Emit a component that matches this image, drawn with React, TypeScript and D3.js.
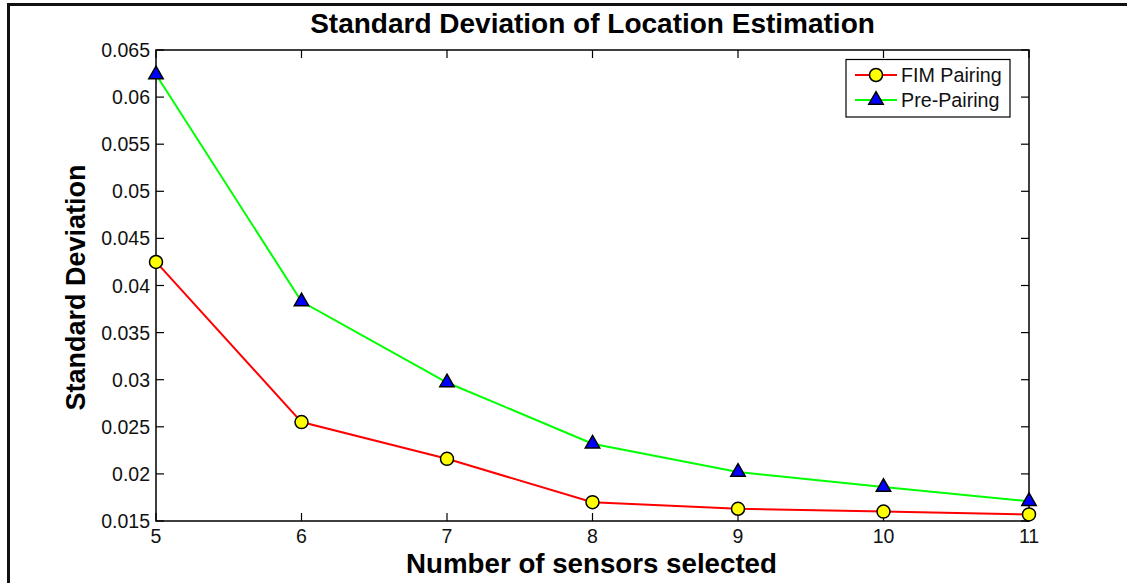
import React, { useEffect, useRef } from 'react'
import * as d3 from 'd3'

const sensors = [5, 6, 7, 8, 9, 10, 11]
const fimPairing = [0.0425, 0.0255, 0.0216, 0.0170, 0.0163, 0.0160, 0.0157]
const prePairing = [0.0624, 0.0383, 0.0297, 0.0232, 0.0202, 0.0186, 0.0171]
const yTicks = [0.015, 0.02, 0.025, 0.03, 0.035, 0.04, 0.045, 0.05, 0.055, 0.06, 0.065]
const xTicks = [5, 6, 7, 8, 9, 10, 11]

export default function App() {
  const svgRef = useRef<SVGSVGElement>(null)

  useEffect(() => {
    if (!svgRef.current) return
    const width = 1127
    const height = 583
    const left = 156, right = 1029, top = 50, bottom = 521
    const font = "'Liberation Sans', Arial, sans-serif"

    const svg = d3.select(svgRef.current)
    svg.selectAll('*').remove()
    svg.attr('width', width).attr('height', height).style('font-family', font)

    svg.append('rect').attr('width', width).attr('height', height).attr('fill', '#fff')

    // outer frame (top + left edges visible)
    svg.append('line').attr('x1', 8).attr('x2', width).attr('y1', 4.5).attr('y2', 4.5)
      .attr('stroke', '#111').attr('stroke-width', 3)
    svg.append('line').attr('x1', 8.5).attr('x2', 8.5).attr('y1', 3).attr('y2', height)
      .attr('stroke', '#111').attr('stroke-width', 3)

    const x = d3.scaleLinear().domain([5, 11]).range([left, right])
    const y = d3.scaleLinear().domain([0.015, 0.065]).range([bottom, top])

    const tickLen = 8
    const axisG = svg.append('g').attr('stroke', '#000').attr('stroke-width', 1.2)
    xTicks.forEach(t => {
      axisG.append('line').attr('x1', x(t)).attr('x2', x(t)).attr('y1', bottom).attr('y2', bottom - tickLen)
      axisG.append('line').attr('x1', x(t)).attr('x2', x(t)).attr('y1', top).attr('y2', top + tickLen)
    })
    yTicks.forEach(t => {
      axisG.append('line').attr('x1', left).attr('x2', left + tickLen).attr('y1', y(t)).attr('y2', y(t))
      axisG.append('line').attr('x1', right).attr('x2', right - tickLen).attr('y1', y(t)).attr('y2', y(t))
    })
    svg.append('rect').attr('x', left).attr('y', top).attr('width', right - left).attr('height', bottom - top)
      .attr('fill', 'none').attr('stroke', '#000').attr('stroke-width', 1.5)

    svg.append('g').selectAll('text').data(yTicks).join('text')
      .attr('x', left - 6).attr('y', d => y(d)).attr('dy', '0.36em')
      .attr('text-anchor', 'end').attr('font-size', 19.5).attr('fill', '#111')
      .text(d => String(+d.toFixed(3)))
    svg.append('g').selectAll('text').data(xTicks).join('text')
      .attr('x', d => x(d)).attr('y', bottom + 22)
      .attr('text-anchor', 'middle').attr('font-size', 19.5).attr('fill', '#111')
      .text(d => String(d))

    svg.append('text').attr('x', (left + right) / 2).attr('y', 33)
      .attr('text-anchor', 'middle').attr('font-size', 28).attr('font-weight', 'bold')
      .text('Standard Deviation of Location Estimation')
    svg.append('text').attr('x', (left + right) / 2 - 1).attr('y', 573)
      .attr('text-anchor', 'middle').attr('font-size', 27.7).attr('font-weight', 'bold')
      .text('Number of sensors selected')
    svg.append('text').attr('transform', `translate(85,${(top + bottom) / 2 + 2}) rotate(-90)`)
      .attr('text-anchor', 'middle').attr('font-size', 27).attr('font-weight', 'bold')
      .text('Standard Deviation')

    const line = d3.line<number>().x((_, i) => x(sensors[i])).y(d => y(d))
    const tri = d3.symbol().type(d3.symbolTriangle).size(90)

    svg.append('path').datum(prePairing).attr('d', line).attr('fill', 'none')
      .attr('stroke', '#00ff00').attr('stroke-width', 2)
    svg.append('path').datum(fimPairing).attr('d', line).attr('fill', 'none')
      .attr('stroke', '#ff0000').attr('stroke-width', 2)

    svg.append('g').selectAll('path').data(prePairing).join('path')
      .attr('d', tri()!)
      .attr('transform', (d, i) => `translate(${x(sensors[i])},${y(d)})`)
      .attr('fill', '#0000ff').attr('stroke', '#000').attr('stroke-width', 1.5)
    svg.append('g').selectAll('circle').data(fimPairing).join('circle')
      .attr('cx', (d, i) => x(sensors[i])).attr('cy', d => y(d)).attr('r', 6.5)
      .attr('fill', '#ffff00').attr('stroke', '#000').attr('stroke-width', 1.5)

    // legend
    const lg = svg.append('g')
    lg.append('rect').attr('x', 846).attr('y', 59.5).attr('width', 164).attr('height', 57.5)
      .attr('fill', '#fff').attr('stroke', '#000').attr('stroke-width', 1.2)
    const items = [
      { name: 'FIM Pairing', color: '#ff0000', marker: 'circle', cy: 75 },
      { name: 'Pre-Pairing', color: '#00ff00', marker: 'tri', cy: 100 },
    ]
    items.forEach(it => {
      lg.append('line').attr('x1', 855).attr('x2', 897).attr('y1', it.cy).attr('y2', it.cy)
        .attr('stroke', it.color).attr('stroke-width', 2)
      if (it.marker === 'circle') {
        lg.append('circle').attr('cx', 876).attr('cy', it.cy).attr('r', 6.5)
          .attr('fill', '#ffff00').attr('stroke', '#000').attr('stroke-width', 1.5)
      } else {
        lg.append('path').attr('d', tri()!).attr('transform', `translate(876,${it.cy})`)
          .attr('fill', '#0000ff').attr('stroke', '#000').attr('stroke-width', 1.5)
      }
      lg.append('text').attr('x', 901).attr('y', it.cy).attr('dy', '0.36em')
        .attr('font-size', 19.7).attr('fill', '#111').text(it.name)
    })
  }, [])

  return (
    <div style={{ position: 'absolute', left: 0, top: 0 }}>
      <svg ref={svgRef} style={{ display: 'block' }}></svg>
    </div>
  )
}
